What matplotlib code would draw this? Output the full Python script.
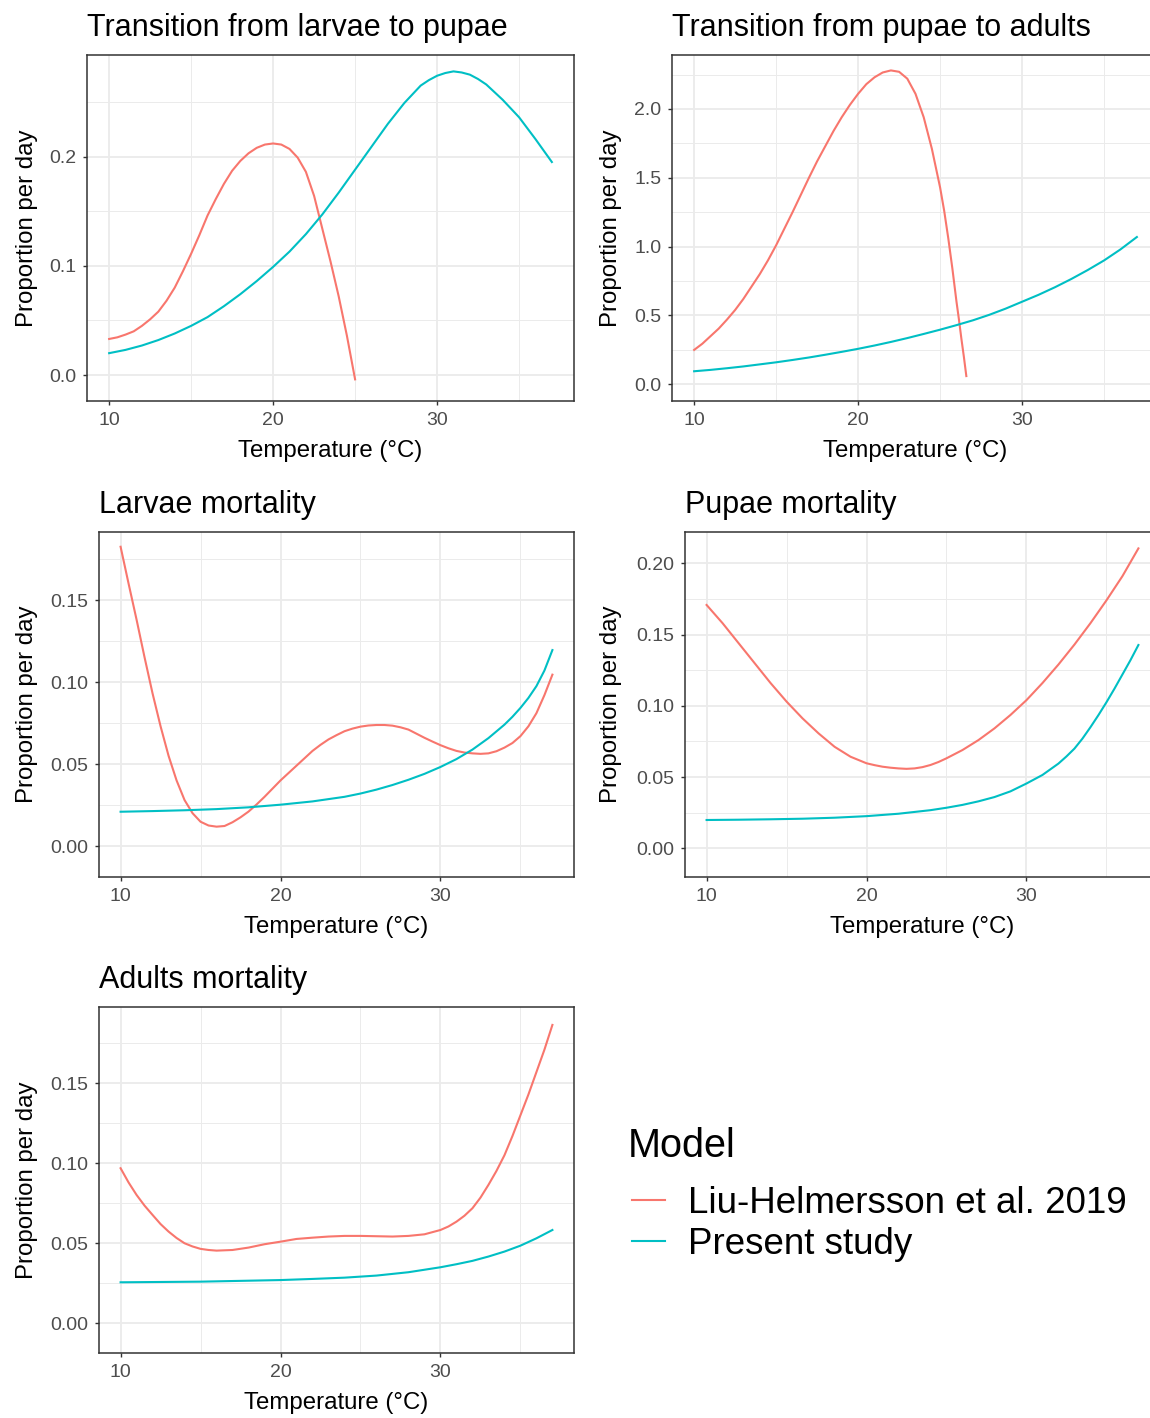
import matplotlib
matplotlib.use('Agg')
import numpy as np
import matplotlib.pyplot as plt
from matplotlib.ticker import FixedLocator, FormatStrFormatter
from matplotlib.lines import Line2D

plt.rcParams['font.family'] = ['Liberation Sans', 'DejaVu Sans']

RED = '#F8766D'
CYAN = '#00BFC4'

model_names = ['Liu-Helmersson et al. 2019', 'Present study']

# Transition from larvae to pupae
lp_liu_t = [10, 10.5, 11, 11.5, 12, 12.5, 13, 13.5, 14, 14.5, 15, 15.5, 16, 16.5, 17, 17.5,
            18, 18.5, 19, 19.5, 20, 20.5, 21, 21.5, 22, 22.5, 23, 23.5, 24, 24.5, 25]
lp_liu = [0.033, 0.0345, 0.037, 0.040, 0.045, 0.051, 0.058, 0.068, 0.080, 0.095, 0.111,
          0.128, 0.146, 0.161, 0.175, 0.187, 0.196, 0.203, 0.208, 0.211, 0.212, 0.211,
          0.207, 0.199, 0.186, 0.164, 0.134, 0.104, 0.072, 0.036, -0.004]
lp_new_t = [10, 11, 12, 13, 14, 15, 16, 17, 18, 19, 20, 21, 22, 23, 24, 25, 26, 27, 28,
            28.5, 29, 29.5, 30, 30.5, 31, 31.5, 32, 32.5, 33, 34, 35, 36, 37]
lp_new = [0.020, 0.023, 0.027, 0.032, 0.038, 0.045, 0.053, 0.063, 0.074, 0.086, 0.099,
          0.113, 0.129, 0.147, 0.167, 0.188, 0.209, 0.230, 0.249, 0.257, 0.265, 0.270,
          0.274, 0.2765, 0.278, 0.277, 0.275, 0.271, 0.266, 0.252, 0.236, 0.216, 0.195]

# Transition from pupae to adults
pa_liu_t = [10, 10.5, 11, 11.5, 12, 12.5, 13, 13.5, 14, 14.5, 15, 15.5, 16, 16.5, 17, 17.5,
            18, 18.5, 19, 19.5, 20, 20.5, 21, 21.5, 22, 22.5, 23, 23.5, 24, 24.5, 25,
            25.25, 25.5, 25.75, 26, 26.15, 26.3, 26.45, 26.6]
pa_liu = [0.25, 0.295, 0.35, 0.405, 0.47, 0.54, 0.62, 0.71, 0.80, 0.90, 1.01, 1.13, 1.25,
          1.375, 1.50, 1.62, 1.73, 1.84, 1.94, 2.03, 2.11, 2.18, 2.23, 2.265, 2.28, 2.27,
          2.22, 2.11, 1.94, 1.71, 1.43, 1.26, 1.06, 0.84, 0.60, 0.47, 0.33, 0.20, 0.06]
pa_new_t = list(range(10, 38))
pa_new = [0.095, 0.105, 0.117, 0.130, 0.145, 0.160, 0.177, 0.195, 0.215, 0.236, 0.258,
          0.282, 0.308, 0.336, 0.366, 0.397, 0.430, 0.465, 0.505, 0.550, 0.600, 0.650,
          0.705, 0.765, 0.830, 0.900, 0.980, 1.070]

# Larvae mortality
lm_liu_t = [10, 10.5, 11, 11.5, 12, 12.5, 13, 13.5, 14, 14.5, 15, 15.5, 16, 16.5, 17, 17.5,
            18, 18.5, 19, 19.5, 20, 20.5, 21, 21.5, 22, 22.5, 23, 23.5, 24, 24.5, 25, 25.5,
            26, 26.5, 27, 27.5, 28, 28.5, 29, 29.5, 30, 30.5, 31, 31.5, 32, 32.5, 33, 33.5,
            34, 34.5, 35, 35.5, 36, 36.5, 37]
lm_liu = [0.1825, 0.160, 0.138, 0.115, 0.093, 0.073, 0.055, 0.040, 0.028, 0.020, 0.0148,
          0.0125, 0.0118, 0.0122, 0.0145, 0.0175, 0.021, 0.0253, 0.030, 0.035, 0.040,
          0.0445, 0.049, 0.0535, 0.058, 0.0617, 0.065, 0.0676, 0.070, 0.0716, 0.0728,
          0.0735, 0.0738, 0.0738, 0.0734, 0.0724, 0.071, 0.0685, 0.066, 0.0637, 0.0615,
          0.0596, 0.058, 0.057, 0.0565, 0.0562, 0.0565, 0.0578, 0.060, 0.0628, 0.067,
          0.073, 0.081, 0.092, 0.1045]
lm_new_t = [10, 12, 14, 16, 18, 20, 22, 24, 25, 26, 27, 28, 29, 30, 31, 32, 33, 34, 34.5,
            35, 35.5, 36, 36.5, 37]
lm_new = [0.0209, 0.0213, 0.0218, 0.0225, 0.0236, 0.0252, 0.0272, 0.0300, 0.0320, 0.0344,
          0.0372, 0.0404, 0.0440, 0.0482, 0.0530, 0.0588, 0.0658, 0.0740, 0.0788, 0.0842,
          0.0903, 0.0975, 0.1070, 0.1195]

# Pupae mortality
pm_liu_t = [10, 11, 12, 13, 14, 15, 16, 17, 18, 19, 20, 20.5, 21, 21.5, 22, 22.5, 23, 23.5,
            24, 24.5, 25, 26, 27, 28, 29, 30, 31, 32, 33, 34, 35, 36, 37]
pm_liu = [0.1708, 0.158, 0.144, 0.130, 0.116, 0.103, 0.0912, 0.0807, 0.0713, 0.0643,
          0.0597, 0.0584, 0.0573, 0.0566, 0.0561, 0.0558, 0.0561, 0.0570, 0.0585, 0.0606,
          0.0632, 0.069, 0.076, 0.0842, 0.0936, 0.104, 0.116, 0.129, 0.143, 0.158, 0.174,
          0.191, 0.2105]
pm_new_t = [10, 12, 14, 16, 18, 20, 22, 24, 25, 26, 27, 28, 29, 30, 31, 32, 32.5, 33, 33.5,
            34, 34.5, 35, 35.5, 36, 36.5, 37]
pm_new = [0.0199, 0.0201, 0.0204, 0.0208, 0.0215, 0.0226, 0.0243, 0.0268, 0.0285, 0.0305,
          0.033, 0.036, 0.040, 0.0455, 0.0515, 0.0595, 0.0645, 0.070, 0.077, 0.085, 0.0935,
          0.1025, 0.112, 0.122, 0.132, 0.1427]

# Adults mortality
am_liu_t = [10, 10.5, 11, 11.5, 12, 12.5, 13, 13.5, 14, 14.5, 15, 15.5, 16, 17, 18, 19, 20,
            21, 22, 23, 24, 25, 26, 27, 28, 29, 30, 30.5, 31, 31.5, 32, 32.5, 33, 33.5,
            34, 34.5, 35, 35.5, 36, 36.5, 37]
am_liu = [0.0969, 0.088, 0.0802, 0.0735, 0.0677, 0.062, 0.0573, 0.0533, 0.050, 0.048,
          0.0465, 0.0458, 0.0454, 0.0458, 0.0473, 0.0494, 0.051, 0.0527, 0.0535, 0.0542,
          0.0546, 0.0546, 0.0544, 0.0542, 0.0546, 0.0556, 0.0583, 0.0605, 0.0635, 0.0672,
          0.0719, 0.0785, 0.0865, 0.0952, 0.105, 0.117, 0.130, 0.143, 0.157, 0.171, 0.1865]
am_new_t = [10, 15, 20, 22, 24, 26, 28, 30, 31, 32, 33, 34, 35, 36, 37]
am_new = [0.0256, 0.026, 0.027, 0.0277, 0.0285, 0.0298, 0.0319, 0.035, 0.0369, 0.039,
          0.0417, 0.0448, 0.0485, 0.0531, 0.0583]

x_ticks = [10, 20, 30]
x_minor = [15, 25, 35]

W, H = 1150, 1418
fig = plt.figure(figsize=(W / 100, H / 100), dpi=100)
fig.patch.set_facecolor('white')


def px_axes(left, top, right, bottom):
    return fig.add_axes([left / W, 1 - bottom / H, (right - left) / W, (bottom - top) / H])


panels = [
    dict(title='Transition from larvae to pupae', rect=(87, 55, 574, 401),
         ylim=(-0.0238, 0.293), yticks=[0.0, 0.1, 0.2], fmt='%.1f', ylab_px=38,
         series=[(lp_liu_t, lp_liu), (lp_new_t, lp_new)]),
    dict(title='Transition from pupae to adults', rect=(672, 55, 1159, 401),
         ylim=(-0.121, 2.392), yticks=[0.0, 0.5, 1.0, 1.5, 2.0], fmt='%.1f', ylab_px=622,
         series=[(pa_liu_t, pa_liu), (pa_new_t, pa_new)]),
    dict(title='Larvae mortality', rect=(99, 532, 574, 877),
         ylim=(-0.0189, 0.1915), yticks=[0.0, 0.05, 0.10, 0.15], fmt='%.2f', ylab_px=38,
         series=[(lm_liu_t, lm_liu), (lm_new_t, lm_new)]),
    dict(title='Pupae mortality', rect=(685, 532, 1160, 877),
         ylim=(-0.0201, 0.222), yticks=[0.0, 0.05, 0.10, 0.15, 0.20], fmt='%.2f', ylab_px=622,
         series=[(pm_liu_t, pm_liu), (pm_new_t, pm_new)]),
    dict(title='Adults mortality', rect=(99, 1007, 574, 1353),
         ylim=(-0.0186, 0.1977), yticks=[0.0, 0.05, 0.10, 0.15], fmt='%.2f', ylab_px=38,
         series=[(am_liu_t, am_liu), (am_new_t, am_new)]),
]

for p in panels:
    left, top, right, bottom = p['rect']
    ax = px_axes(left, top, right, bottom)
    for (t, v), col in zip(p['series'], [RED, CYAN]):
        ax.plot(t, v, color=col, lw=1.5, solid_joinstyle='round', zorder=3)

    ax.set_xlim(8.65, 38.35)
    ax.set_ylim(*p['ylim'])
    step = p['yticks'][1] - p['yticks'][0]
    y_minor = [y for y in np.arange(p['yticks'][0] - step / 2, p['ylim'][1], step)
               if p['ylim'][0] < y < p['ylim'][1]]
    ax.xaxis.set_major_locator(FixedLocator(x_ticks))
    ax.xaxis.set_minor_locator(FixedLocator(x_minor))
    ax.yaxis.set_major_locator(FixedLocator(p['yticks']))
    ax.yaxis.set_minor_locator(FixedLocator(y_minor))
    ax.yaxis.set_major_formatter(FormatStrFormatter(p['fmt']))

    ax.grid(which='major', color='#EBEBEB', lw=1.3, zorder=0)
    ax.grid(which='minor', color='#EBEBEB', lw=0.7, zorder=0)
    ax.set_axisbelow(True)
    ax.tick_params(which='major', length=3.1, width=1.0, color='#333333',
                   labelsize=14, labelcolor='#4D4D4D', pad=4.5)
    ax.tick_params(which='minor', length=0)
    for s in ax.spines.values():
        s.set_color('#333333')
        s.set_linewidth(1.1)

    ax.set_title(p['title'], loc='left', fontsize=22, pad=14, color='black')
    ax.set_xlabel('Temperature (°C)', fontsize=17.3)
    ax.xaxis.set_label_coords(0.5, -39 / (bottom - top))
    ax.set_ylabel('Proportion per day', fontsize=17.3)
    ax.yaxis.set_label_coords((p['ylab_px'] - left) / (right - left), 0.5)

# Legend in the empty bottom-right cell
fig.text(628 / W, 1 - 1157 / H, 'Model', fontsize=28.5, va='baseline', ha='left')
handles = [Line2D([], [], color=c, lw=1.5) for c in [RED, CYAN]]
fig.legend(handles, model_names, loc='upper left',
           bbox_to_anchor=(631.6 / W, 1 - 1186 / H), frameon=False, fontsize=26.5,
           handlelength=0.9, handletextpad=0.62, labelspacing=0.17,
           borderpad=0, borderaxespad=0)

fig.savefig('out.png', dpi=100, facecolor='white')
